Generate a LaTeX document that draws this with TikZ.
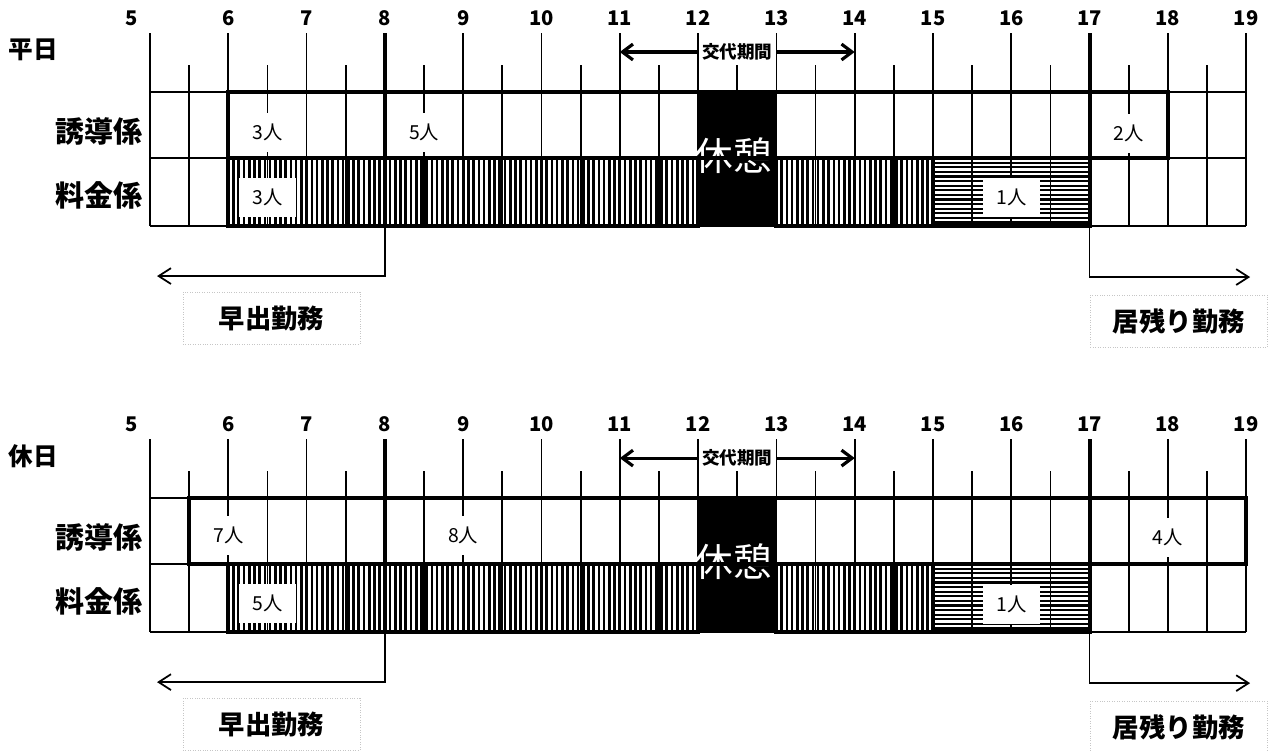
\documentclass[tikz,border=0pt]{standalone}
\usepackage{fontspec}
\setmainfont{Noto Sans CJK JP}
\usetikzlibrary{arrows.meta}
\tikzset{
  gridline/.style={line width=1pt},
  thickline/.style={line width=2.3pt},
  vhatch/.style={line width=1.5pt},
  hhatch/.style={line width=1.25pt},
  hourlabel/.style={font=\bfseries\fontsize{11.5}{13}\selectfont},
  daylabel/.style={font=\bfseries\fontsize{14}{16}\selectfont},
  rowlabel/.style={anchor=east,inner sep=0pt,font=\bfseries\fontsize{16.5}{18}\selectfont},
  people/.style={fill=white,inner sep=0pt,minimum width=1.15cm,minimum height=0.78cm,font=\fontsize{11}{12}\selectfont},
  breaklabel/.style={text=white,inner sep=0pt,font=\fontsize{22}{24}\selectfont},
  swaplabel/.style={inner sep=0pt,minimum width=1.566cm,font=\bfseries\fontsize{10}{12}\selectfont},
  swaparrow/.style={line width=1.8pt,-{Straight Barb[length=6pt,width=9pt]}},
  dutylabel/.style={draw=gray!45,densely dotted,line width=0.4pt,minimum width=3.54cm,minimum height=1.04cm,font=\bfseries\fontsize{15}{17}\selectfont},
  dutyarrow/.style={line width=1pt,-{Straight Barb[length=7pt,width=9pt]}}
}
\begin{document}
\begin{tikzpicture}[x=1.566cm,y=-0.02cm]
\useasboundingbox (3.0843,0) rectangle (19.3423,750);

% both panels: hatching, grid, break, hours
\foreach \p/\dy/\day in {A/0/平日,B/406/休日}{
  \foreach \k in {1,...,89}
    \draw[vhatch] ({6+\k/15},{\dy+158}) -- ({6+\k/15},{\dy+226});
  \foreach \k in {1,...,29}
    \draw[vhatch] ({13+\k/15},{\dy+158}) -- ({13+\k/15},{\dy+226});
  \foreach \k in {1,...,14}
    \draw[hhatch] (15,{\dy+158+4.6*\k}) -- (17,{\dy+158+4.6*\k});

  \foreach \h in {5,...,19}
    \draw[gridline] (\h,{\dy+33}) -- (\h,{\dy+226});
  \foreach \h in {5.5,6.5,...,18.5}
    \draw[gridline] (\h,{\dy+65}) -- (\h,{\dy+226});
  \foreach \y in {92,158,226}
    \draw[gridline] (5,{\dy+\y}) -- (19,{\dy+\y});

  \fill (12,{\dy+92}) rectangle (13,{\dy+226});
  \node[breaklabel] (break\p) at (12.45,{\dy+156}) {休憩};

  \draw[thickline] (6,{\dy+158}) rectangle (12,{\dy+226});
  \draw[thickline] (13,{\dy+158}) rectangle (15,{\dy+226});
  \draw[thickline] (15,{\dy+158}) rectangle (17,{\dy+226});
  \draw[thickline] (8,{\dy+33}) -- (8,{\dy+226});
  \draw[thickline] (17,{\dy+33}) -- (17,{\dy+226});

  \node[hourlabel] (hour\p5) at (4.77,{\dy+18}) {5};
  \foreach \h in {6,...,19}
    \node[hourlabel] (hour\p\h) at (\h,{\dy+18}) {\h};

  \node[daylabel] (day\p) at (3.506,{\dy+50}) {\day};
  \node[rowlabel] (guide\p) at (4.91,{\dy+131}) {誘導係};
  \node[rowlabel] (toll\p) at (4.91,{\dy+195}) {料金係};

  \node[swaplabel] (swap\p) at (12.5,{\dy+52}) {交代期間};
  \coordinate (swapL\p) at (11,{\dy+52});
  \coordinate (swapR\p) at (14,{\dy+52});
  \draw[swaparrow] (swap\p) -- (swapL\p);
  \draw[swaparrow] (swap\p) -- (swapR\p);

  \coordinate (early\p) at (5.09,{\dy+276});
  \coordinate (late\p) at (19.05,{\dy+277});
  \draw[dutyarrow] (8,{\dy+226}) |- (early\p);
  \draw[dutyarrow] (17,{\dy+226}) |- (late\p);
  \node[dutylabel] (earlyduty\p) at (6.55,{\dy+318}) {早出勤務};
  \node[dutylabel] (lateduty\p) at (18.14,{\dy+321}) {居残り勤務};
}

% weekday
\draw[thickline] (6,92) rectangle (18,158);
\node[people] (gA1) at (6.5,132) {3人};
\node[people] (gA2) at (8.5,132) {5人};
\node[people] (gA3) at (17.5,133) {2人};
\node[people] (tA1) at (6.5,197) {3人};
\node[people] (tA2) at (16,197) {1人};

% holiday
\draw[thickline] (5.5,498) rectangle (19,564);
\node[people] (gB1) at (6,535) {7人};
\node[people] (gB2) at (9,535) {8人};
\node[people] (gB3) at (18,537) {4人};
\node[people] (tB1) at (6.5,603) {5人};
\node[people] (tB2) at (16,604) {1人};
\end{tikzpicture}
\end{document}
